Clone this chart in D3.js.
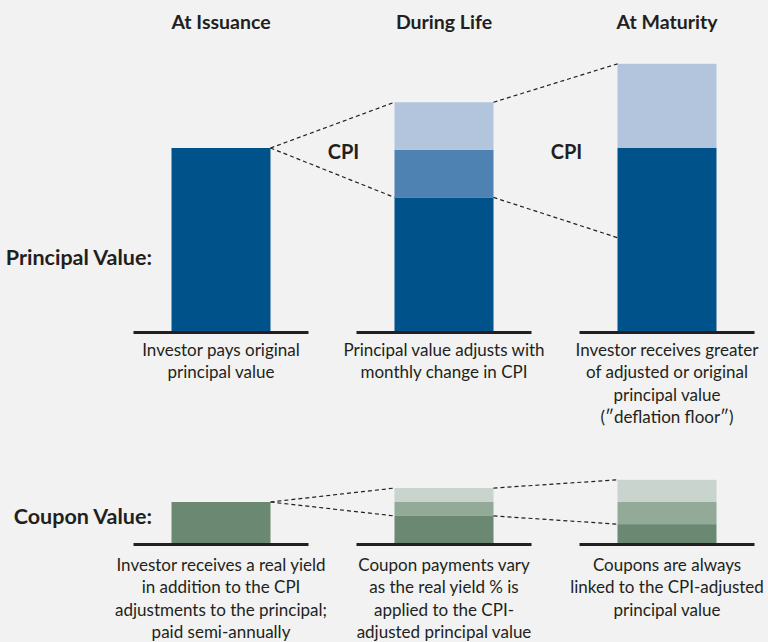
<!DOCTYPE html>
<html>
<head>
<meta charset="utf-8">
<script src="https://cdn.jsdelivr.net/npm/d3@7"></script>
<style>
  html, body { margin: 0; padding: 0; background: #f1f2f1; }
  svg { display: block; }
  .title { font-family: Lato, sans-serif; font-weight: bold; font-size: 19.5px; fill: #231f20; }
  .row-label { font-family: Lato, sans-serif; font-weight: bold; font-size: 21.5px; fill: #231f20; }
  .cpi { font-family: Lato, sans-serif; font-weight: bold; font-size: 20px; fill: #231f20; }
  .note { font-family: Lato, sans-serif; font-size: 17px; fill: #231f20; }
  .connector { stroke: #231f20; stroke-width: 1.2; stroke-dasharray: 4 3; fill: none; }
  .base { stroke: #231f20; stroke-width: 3; }
</style>
</head>
<body>
<svg id="chart" width="768" height="642"></svg>
<script>
// stages across the top
const stages = ["At Issuance", "During Life", "At Maturity"];

// principal bar segments (units, bottom to top)
const principalBase = [100, 73, 100];
const principalCpiMid = [0, 26, 0];
const principalCpiTop = [0, 26, 46];

// coupon bar segments (units, bottom to top)
const couponBase = [100, 66, 46];
const couponMid = [0, 34, 54];
const couponTop = [0, 34, 54];

// dashed connectors: [fromStage, fromValue, toStage, toValue]
const principalLinks = [
  [0, 100, 1, 125],
  [0, 100, 1, 73],
  [1, 125, 2, 146],
  [1, 73, 2, 51]
];
const couponLinks = [
  [0, 100, 1, 134],
  [0, 100, 1, 66],
  [1, 134, 2, 154],
  [1, 66, 2, 46]
];

const cpiLabels = [
  { between: [0, 1], text: "CPI" },
  { between: [1, 2], text: "CPI" }
];

const principalNotes = [
  ["Investor pays original", "principal value"],
  ["Principal value adjusts with", "monthly change in CPI"],
  ["Investor receives greater", "of adjusted or original", "principal value", "(\u2033deflation floor\u2033)"]
];
const couponNotes = [
  ["Investor receives a real yield", "in addition to the CPI", "adjustments to the principal;", "paid semi-annually"],
  ["Coupon payments vary", "as the real yield % is", "applied to the CPI-", "adjusted principal value"],
  ["Coupons are always", "linked to the CPI-adjusted", "principal value"]
];

const principalColors = ["#00528a", "#4d82b2", "#b2c5dc"];
const couponColors = ["#6b8873", "#93aa98", "#c8d4cd"];

const svg = d3.select("#chart");

const x = d3.scalePoint().domain(d3.range(stages.length)).range([221, 667]);
const barW = 99;
const baseW = 175;

// titles
svg.selectAll(".title")
  .data(stages)
  .join("text")
  .attr("class", "title")
  .attr("x", (d, i) => x(i))
  .attr("y", 29)
  .attr("text-anchor", "middle")
  .text(d => d);

const drawPanel = ({ base, mid, top, links, colors, baseY, pxPerUnit, label, labelY, notes, notesY }) => {
  const y = d3.scaleLinear().domain([0, 1]).range([baseY, baseY - pxPerUnit]);
  const g = svg.append("g");

  // stacked segments
  const rows = stages.map((s, i) => ({ i, base: base[i], mid: mid[i], top: top[i] }));
  const stack = d3.stack().keys(["base", "mid", "top"])(rows);

  g.selectAll(".layer")
    .data(stack)
    .join("g")
    .attr("fill", (d, k) => colors[k])
    .selectAll("rect")
    .data(d => d.filter(p => p[1] > p[0]))
    .join("rect")
    .attr("x", d => x(d.data.i) - barW / 2)
    .attr("width", barW)
    .attr("y", d => y(d[1]))
    .attr("height", d => y(d[0]) - y(d[1]));

  // dashed connectors
  g.selectAll(".connector")
    .data(links)
    .join("line")
    .attr("class", "connector")
    .attr("x1", d => x(d[0]) + barW / 2)
    .attr("y1", d => y(d[1]))
    .attr("x2", d => x(d[2]) - barW / 2)
    .attr("y2", d => y(d[3]));

  // base lines
  g.selectAll(".base")
    .data(stages)
    .join("line")
    .attr("class", "base")
    .attr("x1", (d, i) => x(i) - baseW / 2)
    .attr("x2", (d, i) => x(i) + baseW / 2)
    .attr("y1", baseY + 1.5)
    .attr("y2", baseY + 1.5);

  // row label
  g.append("text")
    .attr("class", "row-label")
    .attr("x", 152)
    .attr("y", labelY)
    .attr("text-anchor", "end")
    .attr("dominant-baseline", "middle")
    .text(label);

  // notes
  notes.forEach((lines, i) => {
    g.append("text")
      .attr("class", "note")
      .attr("text-anchor", "middle")
      .selectAll("tspan")
      .data(lines)
      .join("tspan")
      .attr("x", x(i))
      .attr("y", (d, k) => notesY + k * 22.3)
      .text(d => d);
  });
  return y;
};

drawPanel({
  base: principalBase, mid: principalCpiMid, top: principalCpiTop,
  links: principalLinks, colors: principalColors,
  baseY: 331, pxPerUnit: 1.83,
  label: "Principal Value:", labelY: 259,
  notes: principalNotes, notesY: 356
});

drawPanel({
  base: couponBase, mid: couponMid, top: couponTop,
  links: couponLinks, colors: couponColors,
  baseY: 543, pxPerUnit: 0.41,
  label: "Coupon Value:", labelY: 518,
  notes: couponNotes, notesY: 571
});

// CPI labels
svg.selectAll(".cpi")
  .data(cpiLabels)
  .join("text")
  .attr("class", "cpi")
  .attr("x", d => (x(d.between[0]) + x(d.between[1])) / 2 + 11)
  .attr("y", 159)
  .attr("text-anchor", "middle")
  .text(d => d.text);
</script>
</body>
</html>
